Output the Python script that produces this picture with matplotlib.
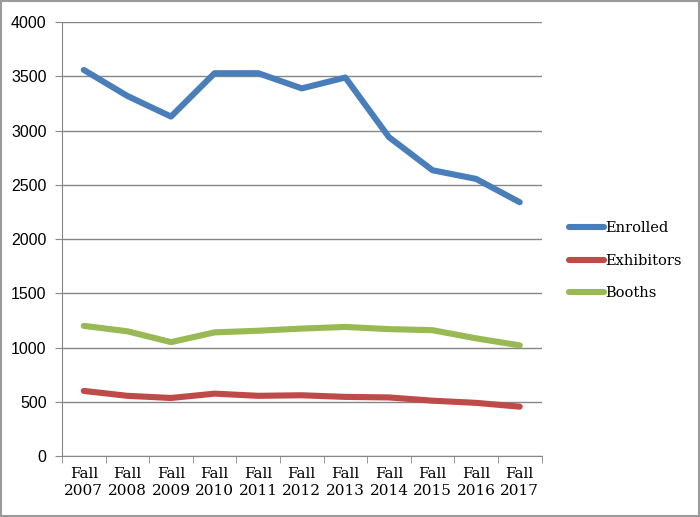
import matplotlib.pyplot as plt
from matplotlib.patches import Rectangle

# --- Data ---
categories = ["Fall\n2007", "Fall\n2008", "Fall\n2009", "Fall\n2010", "Fall\n2011", "Fall\n2012",
              "Fall\n2013", "Fall\n2014", "Fall\n2015", "Fall\n2016", "Fall\n2017"]
enrolled = [3560, 3320, 3130, 3530, 3530, 3390, 3490, 2940, 2635, 2555, 2340]
exhibitors = [600, 555, 535, 575, 555, 560, 545, 540, 510, 490, 455]
booths = [1200, 1150, 1050, 1140, 1155, 1175, 1190, 1170, 1160, 1085, 1020]

fig = plt.figure(figsize=(7, 5.17), dpi=100)
ax = fig.add_axes([0.0886, 0.118, 0.685, 0.839])

x = list(range(len(categories)))
ax.plot(x, enrolled, color='#4A7EBB', lw=4.4, label='Enrolled', solid_capstyle='round')
ax.plot(x, exhibitors, color='#BE4B48', lw=4.4, label='Exhibitors', solid_capstyle='round')
ax.plot(x, booths, color='#98B954', lw=4.4, label='Booths', solid_capstyle='round')

ax.set_xlim(-0.5, len(categories) - 0.5)
ax.set_ylim(0, 4000)
ax.set_yticks(range(0, 4001, 500))
ax.yaxis.grid(True, color='#868686', lw=1)
ax.set_axisbelow(True)

ax.set_xticks(x)
ax.set_xticklabels(categories, family='DejaVu Serif', fontsize=11, linespacing=1.25)
ax.set_xticks([i - 0.5 for i in range(len(categories) + 1)], minor=True)
ax.tick_params(axis='x', which='major', length=0, pad=8)
ax.tick_params(axis='x', which='minor', length=5, color='#868686', direction='out')
ax.tick_params(axis='y', length=5, color='#868686', labelsize=11.5, pad=6)
for lab in ax.get_yticklabels():
    lab.set_family('Liberation Sans')

for side in ['top', 'right']:
    ax.spines[side].set_visible(False)
for side in ['left', 'bottom']:
    ax.spines[side].set_color('#868686')

leg = ax.legend(loc='center left', bbox_to_anchor=(1.03, 0.45), frameon=False,
                prop={'family': 'DejaVu Serif', 'size': 10.5}, handlelength=2.4,
                handletextpad=0.1, labelspacing=1.27)

fig.patches.append(Rectangle((0.002, 0.002), 0.996, 0.996, transform=fig.transFigure,
                             fill=False, edgecolor='#9a9a9a', lw=1.5))

fig.savefig('out.png', dpi=100)
